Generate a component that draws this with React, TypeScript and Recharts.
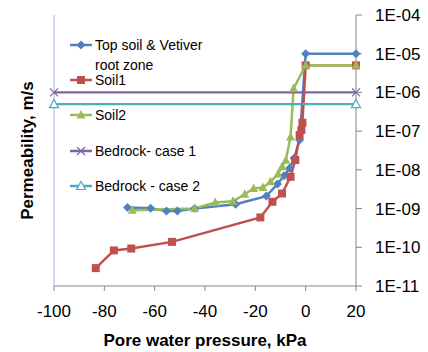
import { LineChart, Line, XAxis, YAxis, Legend } from 'recharts';

const xTicks = [-100, -80, -60, -40, -20, 0, 20];
const yTicks = [1e-11, 1e-10, 1e-9, 1e-8, 1e-7, 1e-6, 1e-5, 1e-4];

const topSoilX = [-70.8, -61.6, -55.3, -51, -44.1, -27.8, -15.6, -11.2, -8.6, -6.4, -4.6, -2.4, 0, 20];
const topSoilK = [1.07e-9, 1.02e-9, 8.7e-10, 8.7e-10, 1.0e-9, 1.3e-9, 2.1e-9, 4.3e-9, 7e-9, 1.1e-8, 2e-8, 5.9e-8, 1e-5, 1e-5];

const soil1X = [-83.4, -76.2, -69.3, -53.1, -18.0, -13.2, -9.4, -6.0, -4.1, -2.4, -1.7, -1.3, 0, 20];
const soil1K = [2.9e-11, 8.3e-11, 9.3e-11, 1.38e-10, 5.9e-10, 1.5e-9, 2.45e-9, 6.6e-9, 1.8e-8, 7.9e-8, 1.07e-7, 1.65e-7, 5e-6, 5e-6];

const soil2X = [-68.9, -44.1, -35.9, -28.9, -24.2, -20.7, -17.0, -14.0, -11.0, -9.4, -7.9, -6.0, -4.8, 0, 20];
const soil2K = [9.1e-10, 1.0e-9, 1.44e-9, 1.55e-9, 2.34e-9, 3.3e-9, 3.5e-9, 4.9e-9, 7.8e-9, 1.2e-8, 1.78e-8, 7.1e-8, 1.26e-6, 5e-6, 5e-6];

const bedrock1X = [-100, 20];
const bedrock1K = [1e-6, 1e-6];

const bedrock2X = [-100, 20];
const bedrock2K = [5e-7, 5e-7];

const FONT = '"Liberation Sans", Arial, sans-serif';

type MarkerKind = 'diamond' | 'square' | 'triangle' | 'cross' | 'openTriangle';

const toPoints = (xs: number[], ys: number[]) => xs.map((x, i) => ({ x, y: ys[i] }));

const series = [
  { name: 'Top soil & Vetiver root zone', color: '#4F81BD', marker: 'diamond' as MarkerKind, data: toPoints(topSoilX, topSoilK) },
  { name: 'Soil1', color: '#C0504D', marker: 'square' as MarkerKind, data: toPoints(soil1X, soil1K) },
  { name: 'Soil2', color: '#9BBB59', marker: 'triangle' as MarkerKind, data: toPoints(soil2X, soil2K) },
  { name: 'Bedrock- case 1', color: '#8064A2', marker: 'cross' as MarkerKind, data: toPoints(bedrock1X, bedrock1K) },
  { name: 'Bedrock - case 2', color: '#4BACC6', marker: 'openTriangle' as MarkerKind, data: toPoints(bedrock2X, bedrock2K) },
];

function Marker({ kind, cx, cy, color }: { kind: MarkerKind; cx: number; cy: number; color: string }) {
  if (cx == null || cy == null) return null;
  switch (kind) {
    case 'diamond':
      return <path d={`M${cx},${cy - 4.5}L${cx + 4.5},${cy}L${cx},${cy + 4.5}L${cx - 4.5},${cy}Z`} fill={color} />;
    case 'square':
      return <rect x={cx - 4} y={cy - 4} width={8} height={8} fill={color} />;
    case 'triangle':
      return <path d={`M${cx},${cy - 5}L${cx + 4.5},${cy + 3.5}L${cx - 4.5},${cy + 3.5}Z`} fill={color} />;
    case 'cross':
      return (
        <path
          d={`M${cx - 4},${cy - 4}L${cx + 4},${cy + 4}M${cx + 4},${cy - 4}L${cx - 4},${cy + 4}`}
          stroke={color}
          strokeWidth={1.2}
          fill='none'
        />
      );
    case 'openTriangle':
      return (
        <path
          d={`M${cx},${cy - 4.5}L${cx + 4.5},${cy + 3.5}L${cx - 4.5},${cy + 3.5}Z`}
          fill='#fff'
          stroke={color}
          strokeWidth={1.2}
        />
      );
  }
  return null;
}

const formatK = (v: number) => `1E-${String(Math.round(-Math.log10(v))).padStart(2, '0')}`;

const renderLegend = () => (
  <div style={{ position: 'relative', width: 170, height: 170, fontFamily: FONT, fontSize: 14, color: '#000' }}>
    {series.map((s, i) => (
      <div key={s.name} style={{ position: 'absolute', left: 0, top: i * 35.2, display: 'flex', alignItems: 'flex-start' }}>
        <svg width={24} height={20} style={{ flex: 'none' }}>
          <line x1={0} y1={10} x2={22} y2={10} stroke={s.color} strokeWidth={2.5} />
          <Marker kind={s.marker} cx={11} cy={10} color={s.color} />
        </svg>
        <span style={{ marginLeft: 1, lineHeight: '20px', width: 122 }}>{s.name}</span>
      </div>
    ))}
  </div>
);

export default function App() {
  return (
    <div style={{ position: 'absolute', left: 0, top: 0, width: 428, height: 352, background: '#fff' }}>
      <LineChart width={428} height={352} margin={{ top: 15, right: 0, bottom: 0, left: 0 }}>
        <XAxis
          type='number'
          dataKey='x'
          domain={[-100, 20]}
          ticks={xTicks}
          height={66}
          stroke='#868686'
          tickSize={5}
          tickMargin={14}
          tick={{ fill: '#000', fontSize: 17, fontFamily: FONT }}
          label={{
            value: 'Pore water pressure, kPa',
            position: 'insideBottom',
            offset: 6,
            fill: '#000',
            fontSize: 17,
            fontWeight: 'bold',
            fontFamily: FONT,
          }}
        />
        <YAxis
          yAxisId='left'
          orientation='left'
          scale='log'
          domain={[1e-11, 1e-4]}
          ticks={yTicks}
          width={54}
          tick={false}
          tickLine={false}
          axisLine={{ stroke: '#9DB9E3' }}
          label={{
            value: 'Permeability, m/s',
            angle: -90,
            position: 'center',
            fill: '#000',
            fontSize: 17,
            fontWeight: 'bold',
            fontFamily: FONT,
          }}
        />
        <YAxis
          yAxisId='right'
          orientation='right'
          scale='log'
          domain={[1e-11, 1e-4]}
          ticks={yTicks}
          width={72}
          stroke='#868686'
          tickSize={6}
          tickMargin={13}
          tickFormatter={formatK}
          tick={{ fill: '#000', fontSize: 17, fontFamily: FONT }}
        />
        <Legend
          layout='vertical'
          align='center'
          verticalAlign='middle'
          content={renderLegend}
          wrapperStyle={{ left: 70, top: 35, width: 170, height: 170 }}
        />
        {series.map((s) => (
          <Line
            key={s.name}
            name={s.name}
            yAxisId='right'
            data={s.data}
            dataKey='y'
            type='linear'
            stroke={s.color}
            strokeWidth={s.marker === 'cross' || s.marker === 'openTriangle' ? 2.25 : 2.5}
            isAnimationActive={false}
            dot={(p: any) => <Marker key={`${s.name}-${p.index}`} kind={s.marker} cx={p.cx} cy={p.cy} color={s.color} />}
            activeDot={false}
          />
        ))}
      </LineChart>
    </div>
  );
}
